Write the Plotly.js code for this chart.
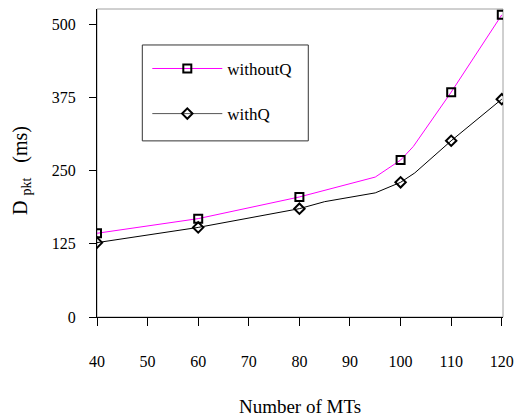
<!DOCTYPE html>
<html>
<head>
<meta charset="utf-8">
<script src="https://cdn.plot.ly/plotly-3.0.1.min.js"></script>
<style>html,body{margin:0;padding:0;background:#fff;}#chart{width:517px;height:419px;}</style>
</head>
<body>
<div id="chart"></div>
<script>
// Number of MTs (x) and packet delay D_pkt in ms (y)
var xWithoutQ = [40, 60, 80, 95, 100, 102.5, 110, 120];
var yWithoutQ = [143, 168, 205, 239, 268, 291, 384, 516];
var markWithoutQ = [true, true, true, false, true, false, true, true];

var xWithQ = [40, 60, 80, 85, 95, 100, 102.8, 110, 120];
var yWithQ = [127, 153, 185, 197, 212, 230, 246, 301, 372];
var markWithQ = [true, true, true, false, false, true, false, true, true];

var xTicks = [40, 50, 60, 70, 80, 90, 100, 110, 120];
var yTicks = [0, 125, 250, 375, 500];

function pick(arr, mask) { return arr.filter(function (v, i) { return mask[i]; }); }

var FONT = '"Liberation Serif", "Times New Roman", Times, serif';

var traces = [
  { x: xWithoutQ, y: yWithoutQ, mode: 'lines', line: { color: '#ff00ff', width: 1 }, showlegend: false, hoverinfo: 'skip' },
  { x: pick(xWithoutQ, markWithoutQ), y: pick(yWithoutQ, markWithoutQ), mode: 'markers',
    marker: { symbol: 'square-open', size: 8, color: '#000', line: { width: 2, color: '#000' } }, showlegend: false },
  { x: xWithQ, y: yWithQ, mode: 'lines', line: { color: '#000', width: 1 }, showlegend: false, hoverinfo: 'skip' },
  { x: pick(xWithQ, markWithQ), y: pick(yWithQ, markWithQ), mode: 'markers',
    marker: { symbol: 'diamond-open', size: 8, color: '#000', line: { width: 2, color: '#000' } }, showlegend: false },
  // legend entries
  { x: [null], y: [null], name: 'withoutQ', legendgroup: 'a', mode: 'lines+markers',
    line: { color: '#ff00ff', width: 1 },
    marker: { symbol: 'square-open', size: 8, color: '#000', line: { width: 2, color: '#000' } } },
  { x: [null], y: [null], name: 'withQ', legendgroup: 'b', mode: 'lines+markers',
    line: { color: '#555', width: 1 },
    marker: { symbol: 'diamond-open', size: 8, color: '#000', line: { width: 2, color: '#000' } } }
];

var layout = {
  width: 517, height: 419,
  margin: { l: 97, r: 14, t: 9, b: 102 },
  paper_bgcolor: '#fff', plot_bgcolor: '#fff',
  font: { family: FONT, color: '#000', size: 16 },
  xaxis: {
    range: [40, 120.24], tickvals: xTicks, ticktext: xTicks.map(String),
    ticks: 'outside', ticklen: 8, tickcolor: '#000', tickwidth: 1,
    showline: true, linecolor: '#000', linewidth: 1, showgrid: false, zeroline: false,
    tickfont: { family: FONT, size: 16, color: '#000' }, ticklabelstandoff: 22,
    title: { text: 'Number of MTs', font: { family: FONT, size: 19, color: '#000' }, standoff: 30 }
  },
  yaxis: {
    range: [0, 526], tickvals: yTicks, ticktext: yTicks.map(String),
    ticks: 'outside', ticklen: 7, tickcolor: '#000', tickwidth: 1,
    showline: true, linecolor: '#000', linewidth: 1, showgrid: false, zeroline: false,
    tickfont: { family: FONT, size: 16, color: '#000' }, ticklabelstandoff: 10,
    title: { text: 'D&nbsp;<sub>pkt</sub>&nbsp;&nbsp;&nbsp;(ms)&nbsp;&nbsp;&nbsp;', font: { family: FONT, size: 20, color: '#000' }, standoff: 18 }
  },
  shapes: [
    { type: 'rect', xref: 'paper', yref: 'paper', x0: 0, x1: 1, y0: 0, y1: 1,
      line: { color: '#a0a0a0', width: 1 }, layer: 'below' },
    { type: 'rect', xref: 'paper', yref: 'paper', x0: 0.1116, x1: 0.5204, y0: 0.5718, y1: 0.8832,
      line: { color: '#333', width: 1 }, fillcolor: '#fff', layer: 'above' }
  ],
  legend: {
    x: 0.1239, y: 0.8638, xanchor: 'left', yanchor: 'top',
    bgcolor: 'rgba(0,0,0,0)', borderwidth: 0,
    font: { family: FONT, size: 17, color: '#000' }, itemwidth: 70, tracegroupgap: 20,
    traceorder: 'grouped'
  },
  showlegend: true
};

Plotly.newPlot('chart', traces, layout, { displayModeBar: false, staticPlot: true }).then(function (gd) {
  // lengthen the legend line samples to match the reference's longer legend keys
  gd.querySelectorAll('.legend .traces').forEach(function (it) {
    it.querySelectorAll('.legendlines path').forEach(function (p) { p.setAttribute('d', 'M5,0h70'); });
    it.querySelectorAll('.legendpoints path').forEach(function (p) {
      p.setAttribute('transform', 'translate(40,0)');
    });
  });
});
</script>
</body>
</html>
